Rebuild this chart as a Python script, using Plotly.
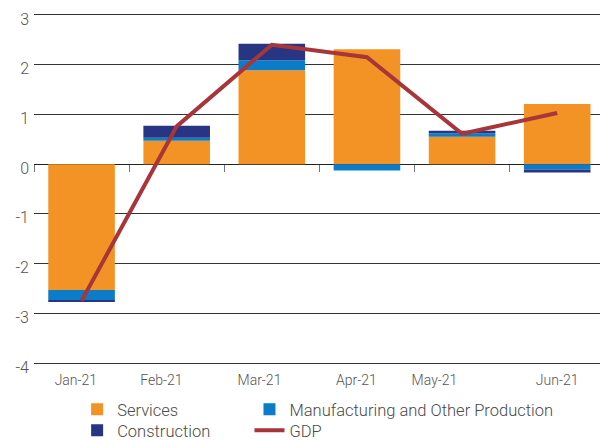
import plotly.graph_objects as go

# Monthly contributions to GDP growth (percentage points)
months = ["Jan-21", "Feb-21", "Mar-21", "Apr-21", "May-21", "Jun-21"]
services = [-2.53, 0.47, 1.89, 2.31, 0.55, 1.21]
manufacturing = [-0.21, 0.06, 0.20, -0.13, 0.07, -0.11]
construction = [-0.03, 0.24, 0.33, 0.0, 0.05, -0.06]
gdp = [-2.75, 0.76, 2.40, 2.15, 0.61, 1.03]

y_ticks = [3, 2, 1, 0, -1, -2, -3, -4]
# where each month's label sits along the category axis
label_pos = [-0.06, 0.84, 1.87, 2.89, 3.71, 5.0]
boundaries = [i - 0.5 for i in range(len(months))]

ORANGE = "#F39325"
BLUE = "#0A7CC8"
NAVY = "#283583"
RED = "#A8353A"
FONT = "Roboto"

idx = list(range(len(months)))

fig = go.Figure()
fig.add_trace(go.Bar(x=idx, y=services, name="Services", marker_color=ORANGE,
                     marker_line_width=0, width=0.7, legend="legend"))
fig.add_trace(go.Bar(x=idx, y=manufacturing, name="Manufacturing and Other Production",
                     marker_color=BLUE, marker_line_width=0, width=0.7, legend="legend2"))
fig.add_trace(go.Bar(x=idx, y=construction, name="Construction", marker_color=NAVY,
                     marker_line_width=0, width=0.7, legend="legend3"))
# GDP line sits on the labelled overlay axis (same range) so it draws above the bars
fig.add_trace(go.Scatter(x=idx, y=gdp, name="GDP", mode="lines", xaxis="x2",
                         line=dict(color=RED, width=4), legend="legend4"))

xr = [-0.5, 5.45]
yr = [-4.04, 3.04]
legend_font = dict(size=16.5, color="#4a4a4a", family=FONT, weight=300)


def legend_box(x_frac, y_frac):
    return dict(orientation="h", x=x_frac, xanchor="left", y=y_frac,
                yanchor="middle", font=legend_font, itemclick=False,
                bgcolor="rgba(0,0,0,0)")


col1, col2 = 0.0762, 0.3807
row1, row2 = -0.1268, -0.1858
fig.update_layout(
    width=600, height=441,
    margin=dict(l=34.4, r=0, t=12.7, b=75.7, autoexpand=False),
    showlegend=True,
    paper_bgcolor="white", plot_bgcolor="white",
    barmode="relative",
    font=dict(family=FONT, color="#555555", size=14),
    xaxis=dict(range=xr, tickvals=boundaries, showticklabels=False,
               ticks="outside", ticklen=7, tickcolor="#777777", tickwidth=1,
               showgrid=False, zeroline=False, showline=False,
               anchor="free", position=(0 - yr[0]) / (yr[1] - yr[0])),
    xaxis2=dict(range=xr, overlaying="x", side="bottom", anchor="y",
                tickvals=label_pos, ticktext=months, ticks="",
                showgrid=False, zeroline=False, showline=False,
                tickfont=dict(size=14, color="#555555", family=FONT, weight=300),
                ticklabelstandoff=5),
    yaxis=dict(range=yr, tickvals=y_ticks, ticktext=[str(v) for v in y_ticks],
               showgrid=True, gridcolor="#333333", gridwidth=1,
               zeroline=True, zerolinecolor="#222222", zerolinewidth=1,
               showline=False, ticks="",
               tickfont=dict(size=16, color="#555555", family=FONT, weight=300),
               ticklabelstandoff=4, ticklabelshift=4),
    legend=legend_box(col1, row1),
    legend2=legend_box(col2, row1),
    legend3=legend_box(col1, row2),
    legend4=legend_box(col2, row2),
)

fig.write_html("out.html")
